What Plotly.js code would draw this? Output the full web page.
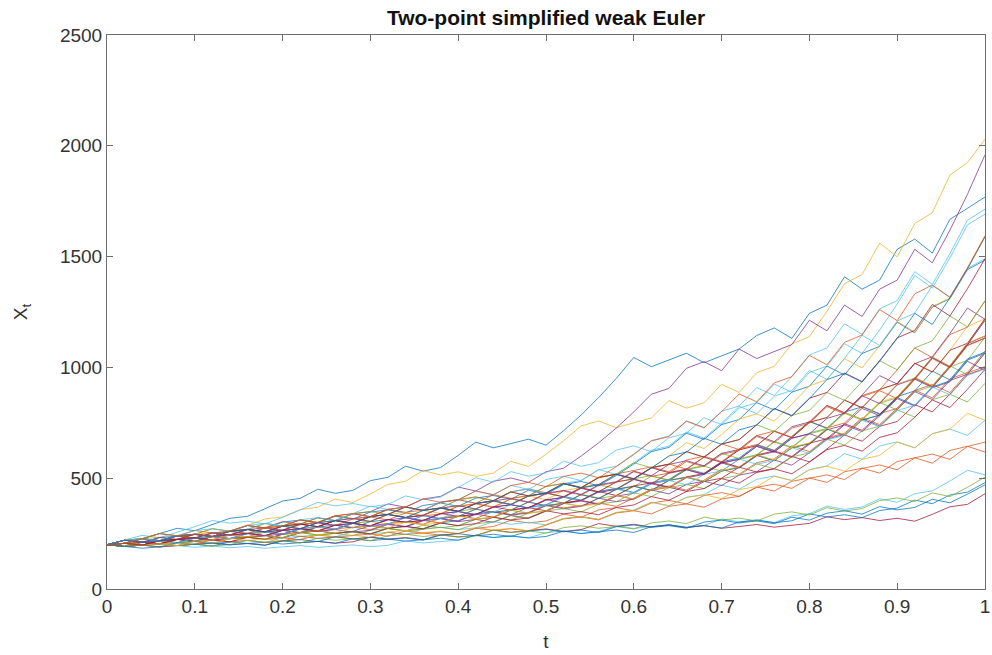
<!DOCTYPE html>
<html>
<head>
<meta charset="utf-8">
<script src="https://cdn.plot.ly/plotly-3.0.1.min.js"></script>
<style>html,body{margin:0;padding:0;background:#fff;}#chart{width:992px;height:655px;}</style>
</head>
<body>
<div id="chart"></div>
<script>
// time grid (t)
const t = [0,0.02,0.04,0.06,0.08,0.1,0.12,0.14,0.16,0.18,0.2,0.22,0.24,0.26,0.28,0.3,0.32,0.34,0.36,0.38,0.4,0.42,0.44,0.46,0.48,0.5,0.52,0.54,0.56,0.58,0.6,0.62,0.64,0.66,0.68,0.7,0.72,0.74,0.76,0.78,0.8,0.82,0.84,0.86,0.88,0.9,0.92,0.94,0.96,0.98,1];

// simulated paths X_t (values read/estimated from the picture)
const path01 = [200,220,227,249,274,263,290,319,328,361,397,409,450,432,445,489,504,554,532,548,603,663,637,656,676,649,714,785,864,950,1045,1003,1033,1064,1021,1052,1083,1144,1178,1131,1244,1281,1409,1353,1394,1533,1579,1516,1668,1718,1769];
const path02 = [200,206,227,218,224,231,254,244,251,276,304,292,301,331,318,327,360,346,356,392,404,416,399,439,452,434,477,458,472,519,535,551,529,582,599,575,633,652,626,688,757,727,749,824,791,815,896,923,886,975,1004];
const path03 = [200,206,227,218,240,247,272,261,287,316,325,358,369,406,390,429,472,486,535,514,529,508,523,576,553,608,669,736,758,728,750,772,850,816,840,924,887,976,1005,1106,1139,1253,1378,1419,1561,1499,1649,1698,1868,1924,2030];
const path04 = [200,206,198,218,224,247,237,244,268,276,265,292,321,308,339,349,384,369,406,418,460,442,486,501,481,529,545,600,660,726,799,879,905,996,1026,985,1083,1040,1071,1103,1213,1165,1281,1230,1353,1394,1533,1472,1619,1781,1959];
const path05 = [200,192,211,217,208,214,206,227,234,225,247,237,244,251,241,265,273,262,288,277,285,314,323,355,341,375,386,425,408,449,462,509,489,538,554,532,585,603,663,637,700,721,793,762,838,863,949,911,1002,1032,1136];
const path06 = [200,192,198,190,196,188,194,186,192,184,190,196,188,194,199,191,197,217,208,214,221,243,233,240,231,254,262,251,259,285,273,282,290,279,287,316,303,312,300,330,340,374,359,370,407,391,430,443,487,536,515];
const path07 = [200,192,198,204,196,202,208,200,206,198,218,209,215,207,213,234,225,232,222,245,235,242,266,256,263,271,260,268,295,283,292,280,289,277,286,274,282,291,279,287,296,326,313,322,309,319,306,337,371,382,430];
const path08 = [200,206,198,204,224,215,237,228,235,242,232,255,263,252,260,286,275,283,272,299,308,339,349,335,369,380,418,401,441,454,436,480,494,543,522,574,591,650,624,687,755,725,798,822,789,868,894,983,944,1038,1069];
const path09 = [200,192,198,218,209,215,206,212,233,224,231,222,244,234,241,248,238,262,252,259,249,274,282,310,298,307,338,324,357,367,353,388,400,384,422,435,418,459,473,454,500,515,494,544,560,538,592,609,585,643,663];
const path10 = [200,220,211,218,240,247,237,261,251,276,284,273,300,309,297,327,336,323,355,341,375,386,371,408,420,403,444,457,439,483,497,477,525,541,519,571,628,647,712,683,752,774,852,818,900,927,1019,979,1077,1184,1220];
const path11 = [200,206,227,218,209,230,237,227,250,258,247,272,280,269,296,284,293,322,309,340,350,336,370,381,366,402,414,398,438,451,496,476,490,539,518,569,586,645,619,681,701,673,741,815,782,861,947,909,1000,1100,1133];
const path12 = [200,192,211,203,209,215,237,227,234,225,247,255,244,252,259,249,274,263,271,298,286,315,324,311,342,352,387,372,409,421,463,445,489,504,484,532,548,603,579,637,656,722,693,762,785,864,950,1045,1003,1103,1214];
const path13 = [200,220,242,232,255,281,309,297,306,294,323,356,391,375,386,371,382,420,403,415,457,502,482,530,509,524,577,554,570,627,646,620,682,703,773,742,816,841,925,888,977,1006,1107,1063,1169,1286,1415,1358,1494,1643,1692];
const path14 = [200,206,198,218,224,215,237,244,234,241,265,254,262,288,277,285,314,301,310,298,328,338,324,357,367,353,388,400,384,422,405,446,459,441,485,500,550,528,544,598,574,632,695,667,734,756,832,799,879,967,996];
const path15 = [200,192,198,190,196,202,194,213,205,211,203,209,215,206,227,218,225,216,222,229,220,242,232,239,230,237,261,250,258,266,255,281,289,278,286,275,302,311,299,308,339,325,335,322,354,365,401,385,424,437,480];
const path16 = [200,220,211,203,209,230,221,228,235,259,249,256,282,271,279,268,295,304,292,321,331,318,350,336,346,381,366,377,388,373,410,451,465,446,491,540,518,570,587,646,620,682,703,773,742,816,898,862,948,977,1074];
const path17 = [200,206,227,234,225,247,237,244,234,258,265,255,280,269,296,305,293,302,290,319,328,361,347,357,393,377,388,427,410,451,465,446,491,506,486,534,550,605,581,639,658,724,796,764,841,925,953,1048,1006,1107,1218];
const path18 = [200,192,211,217,239,229,236,227,234,224,247,271,260,268,257,265,291,280,308,317,304,314,301,331,318,350,385,397,381,419,432,475,456,502,517,569,546,601,619,594,653,718,740,710,781,859,825,908,935,1028,987];
const path19 = [200,220,227,218,240,230,237,261,251,258,284,273,281,309,297,306,337,323,333,366,351,362,398,382,420,433,416,457,471,452,497,512,492,541,557,613,588,606,666,640,704,725,797,766,842,808,889,916,1007,967,1064];
const path20 = [200,192,198,204,196,216,207,213,219,210,231,238,228,235,259,249,256,246,271,279,268,276,304,292,301,289,318,327,314,345,356,392,376,414,426,469,450,495,510,490,539,555,611,586,645,664,637,701,722,693,762];
const path21 = [200,206,227,218,240,247,237,261,269,258,284,293,281,309,297,327,337,323,333,366,351,386,398,382,420,433,416,457,439,483,497,547,525,541,595,571,628,647,712,683,752,774,852,818,900,927,1019,979,1077,1109,1220];
const path22 = [200,220,211,232,239,229,252,260,286,274,302,311,298,328,315,347,357,343,377,388,373,410,422,405,446,428,471,485,466,512,564,620,639,703,675,742,765,841,808,888,915,1006,966,1063,1095,1204,1156,1272,1310,1441,1484];
const path23 = [200,206,198,190,196,202,222,213,219,210,216,238,228,235,226,233,256,246,253,243,250,275,264,272,261,287,316,325,312,343,353,339,373,384,369,406,418,460,442,486,501,481,529,545,523,575,592,568,625,644,618];
const path24 = [200,206,227,218,224,247,254,244,269,258,284,292,281,309,318,305,336,346,332,365,376,361,397,381,420,432,475,456,502,517,496,546,600,660,634,697,767,790,758,834,917,945,1039,998,1098,1207,1159,1275,1313,1444,1588];
const path25 = [200,192,211,203,223,230,221,228,251,241,248,273,262,270,297,285,294,282,310,319,306,337,347,333,343,377,362,373,410,394,406,447,429,472,486,467,514,529,582,559,615,677,697,767,736,810,891,855,941,969,1066];
const path26 = [200,206,198,218,209,215,237,227,234,241,231,254,244,251,259,248,273,262,270,278,267,294,303,333,320,352,363,348,383,394,434,417,458,472,453,498,513,565,542,596,614,676,649,713,735,808,776,854,879,844,928];
const path27 = [200,220,227,250,240,247,237,261,269,296,284,312,300,309,340,326,336,370,355,366,403,387,398,438,451,433,476,490,539,517,569,626,645,709,681,749,824,791,870,896,986,946,1041,1145,1099,1209,1245,1370,1315,1447,1490];
const path28 = [200,192,198,204,224,215,222,213,234,241,231,254,262,251,259,249,274,282,271,298,286,295,324,311,321,353,339,349,335,368,379,417,400,440,453,498,478,526,542,520,572,629,648,622,684,705,775,853,819,901,991];
const path29 = [200,206,227,218,224,215,237,244,268,257,265,254,280,288,276,304,313,301,331,318,327,360,346,356,392,376,387,426,409,450,464,445,490,504,484,532,548,603,579,637,656,722,693,762,785,864,829,912,939,1033,1064];
const path30 = [200,220,211,217,239,229,236,260,250,275,264,290,299,287,316,325,312,343,329,339,373,384,369,406,390,429,442,424,467,481,529,508,523,575,552,607,625,688,660,726,748,823,790,869,895,859,945,1040,998,1098,1131];
const path31 = [200,192,211,203,209,201,207,228,219,226,217,224,246,236,243,233,257,265,254,262,251,277,266,274,263,289,318,327,314,345,355,391,375,413,425,408,449,462,509,489,538,554,532,585,603,663,637,700,721,793,761];
const path32 = [200,206,198,218,240,247,237,244,269,258,266,293,281,309,318,305,336,322,332,365,376,361,397,409,393,432,445,427,470,484,532,511,562,579,556,612,630,693,665,732,754,829,796,876,963,925,1017,1048,1153,1268,1217];
const path33 = [200,192,198,204,196,202,194,200,220,211,217,208,229,220,227,218,240,247,237,244,234,241,265,254,262,252,277,285,274,282,271,298,307,295,324,311,320,307,338,348,334,367,352,363,399,411,395,434,417,459,505];
const path34 = [200,220,211,217,208,229,236,227,250,258,247,272,280,269,296,284,293,322,309,318,350,336,346,381,366,377,415,398,438,451,433,476,490,470,517,533,586,563,580,638,612,673,693,762,732,805,829,912,876,964,993];
const path35 = [200,206,212,204,224,231,222,244,251,241,265,273,262,288,297,285,314,301,310,341,327,337,371,356,367,404,388,400,440,422,465,479,460,506,521,573,550,605,623,598,658,678,746,716,788,866,953,915,1007,1107,1141];
const path36 = [200,192,184,190,209,201,207,199,205,197,217,223,214,236,226,233,224,230,221,243,250,240,247,237,261,269,258,266,255,281,289,278,286,274,302,311,298,307,295,324,311,342,353,338,372,357,368,405,389,428,470];
const path37 = [200,220,227,218,240,264,253,261,287,276,284,312,300,330,340,326,359,370,355,391,403,387,426,409,421,463,477,458,504,519,498,548,564,541,595,655,629,692,713,684,752,827,794,873,899,989,1088,1044,1148,1182,1300];
const path38 = [200,206,198,204,196,216,222,244,235,242,232,255,263,252,278,286,275,302,290,299,329,315,325,357,343,353,389,373,385,423,406,447,460,506,486,535,551,606,582,640,659,725,696,766,843,868,955,917,1009,1110,1143];
const path39 = [200,220,211,232,223,230,253,243,250,240,264,272,299,287,296,284,312,321,308,339,349,335,369,380,365,401,413,454,436,449,494,474,522,538,516,568,585,643,618,680,700,770,793,872,837,921,949,1044,1002,1102,1212];
const path40 = [200,206,227,250,240,247,272,261,269,296,284,293,322,309,340,350,336,370,355,366,402,414,398,438,420,462,476,457,503,518,570,547,563,620,595,654,674,741,711,783,806,887,851,936,1030,989,1088,1120,1232,1183,1301];
const path41 = [200,220,227,218,240,264,272,261,287,296,284,312,322,309,340,374,359,370,355,391,403,443,425,468,449,494,509,489,538,554,609,670,690,759,729,802,826,909,873,960,1056,1088,1197,1149,1264,1302,1432,1375,1513,1664,1714];
const path42 = [200,206,198,218,224,247,237,261,269,258,284,293,281,309,297,327,337,370,355,366,351,386,398,438,420,433,476,457,503,518,497,547,563,620,595,654,674,741,815,783,861,887,975,936,1030,1133,1167,1284,1232,1355,1491];
const path43 = [200,220,211,217,239,246,236,260,268,257,283,272,299,308,296,326,336,322,354,365,350,385,397,381,419,432,475,456,470,517,496,546,600,618,680,653,718,740,814,781,859,945,973,934,1028,1131,1244,1194,1314,1445,1590];
const path44 = [200,206,227,250,240,247,237,261,287,276,284,312,300,330,340,326,359,370,407,391,402,442,425,467,481,462,508,523,502,552,607,668,688,757,727,800,880,845,930,958,1054,1012,1113,1146,1261,1211,1332,1372,1317,1449,1594];

const paths = [path01,path02,path03,path04,path05,path06,path07,path08,path09,path10,
  path11,path12,path13,path14,path15,path16,path17,path18,path19,path20,
  path21,path22,path23,path24,path25,path26,path27,path28,path29,path30,
  path31,path32,path33,path34,path35,path36,path37,path38,path39,path40,
  path41,path42,path43,path44];

const xTicks = [0,0.1,0.2,0.3,0.4,0.5,0.6,0.7,0.8,0.9,1];
const xTickText = ['0','0.1','0.2','0.3','0.4','0.5','0.6','0.7','0.8','0.9','1'];
const yTicks = [0,500,1000,1500,2000,2500];
const yTickText = ['0','500','1000','1500','2000','2500'];

const colorOrder = ['#0072BD','#D95319','#EDB120','#7E2F8E','#77AC30','#4DBEEE','#A2142F'];

const traces = paths.map((y, i) => ({
  x: t, y: y, type: 'scatter', mode: 'lines',
  line: {color: colorOrder[i % colorOrder.length], width: 0.85},
  opacity: 0.9,
  hoverinfo: 'skip', showlegend: false
}));

const fontFamily = 'Liberation Sans, Arial, sans-serif';
const axisCommon = {
  showgrid: false, zeroline: false, showline: true, linecolor: '#6e6e6e', linewidth: 1,
  mirror: 'ticks', ticks: 'inside', ticklen: 6, tickwidth: 1, tickcolor: '#6e6e6e',
  tickfont: {family: fontFamily, size: 19, color: '#333'}
};

const layout = {
  width: 992, height: 655,
  margin: {l: 107, r: 7, t: 35, b: 66},
  paper_bgcolor: '#fff', plot_bgcolor: '#fff',
  showlegend: false,
  title: {
    text: '<b>Two-point simplified weak Euler</b>',
    font: {family: fontFamily, size: 21, color: '#111'},
    x: 0.5, xref: 'paper', xanchor: 'center',
    y: 1 - 18/655, yref: 'container', yanchor: 'middle'
  },
  xaxis: Object.assign({}, axisCommon, {
    range: [0, 1], tickvals: xTicks, ticktext: xTickText,
    title: {text: 't', standoff: 18, font: {family: fontFamily, size: 19, color: '#333'}}
  }),
  yaxis: Object.assign({}, axisCommon, {
    range: [0, 2500], tickvals: yTicks, ticktext: yTickText,
    title: {text: 'X<sub>t</sub>', standoff: 27, font: {family: fontFamily, size: 19, color: '#333'}}
  })
};

Plotly.newPlot('chart', traces, layout, {staticPlot: true, displayModeBar: false});
</script>
</body>
</html>
